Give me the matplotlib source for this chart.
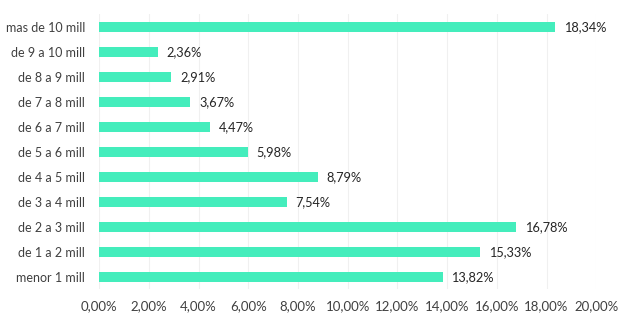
import matplotlib.pyplot as plt
from matplotlib.ticker import FuncFormatter

# income brackets, bottom to top
categories = ['menor 1 mill', 'de 1 a 2 mill', 'de 2 a 3 mill', 'de 3 a 4 mill',
              'de 4 a 5 mill', 'de 5 a 6 mill', 'de 6 a 7 mill', 'de 7 a 8 mill',
              'de 8 a 9 mill', 'de 9 a 10 mill', 'mas de 10 mill']
shares = [13.82, 15.33, 16.78, 7.54, 8.79, 5.98, 4.47, 3.67, 2.91, 2.36, 18.34]
xticks = [0, 2, 4, 6, 8, 10, 12, 14, 16, 18, 20]

plt.rcParams['font.family'] = ['Lato', 'DejaVu Sans']

def pct(v):
    return f'{v:.2f}'.replace('.', ',') + '%'

fig = plt.figure(figsize=(6.35, 3.27), dpi=100)
ax = fig.add_axes([0.156, 0.115, 0.783, 0.841])

ypos = list(range(len(categories)))
ax.barh(ypos, shares, height=0.4, color='#44EDBC', zorder=3)
for y, v in zip(ypos, shares):
    ax.text(v + 0.35, y, pct(v), va='center', ha='left', fontsize=9.2, color='#262626')

ax.set_xlim(0, 20)
ax.set_ylim(-0.5, len(categories) - 0.5)
ax.set_yticks(ypos)
ax.set_yticklabels(categories)
ax.set_xticks(xticks)
ax.xaxis.set_major_formatter(FuncFormatter(lambda v, _: pct(v)))
ax.tick_params(axis='both', length=0, labelcolor='#404040')
ax.tick_params(axis='y', pad=10, labelsize=9)
ax.tick_params(axis='x', pad=8, labelsize=9.5)
ax.grid(axis='x', color='#F0F0F0', linewidth=0.8, zorder=0)
for s in ax.spines.values():
    s.set_visible(False)

fig.savefig('out.png', dpi=100, facecolor='white')
